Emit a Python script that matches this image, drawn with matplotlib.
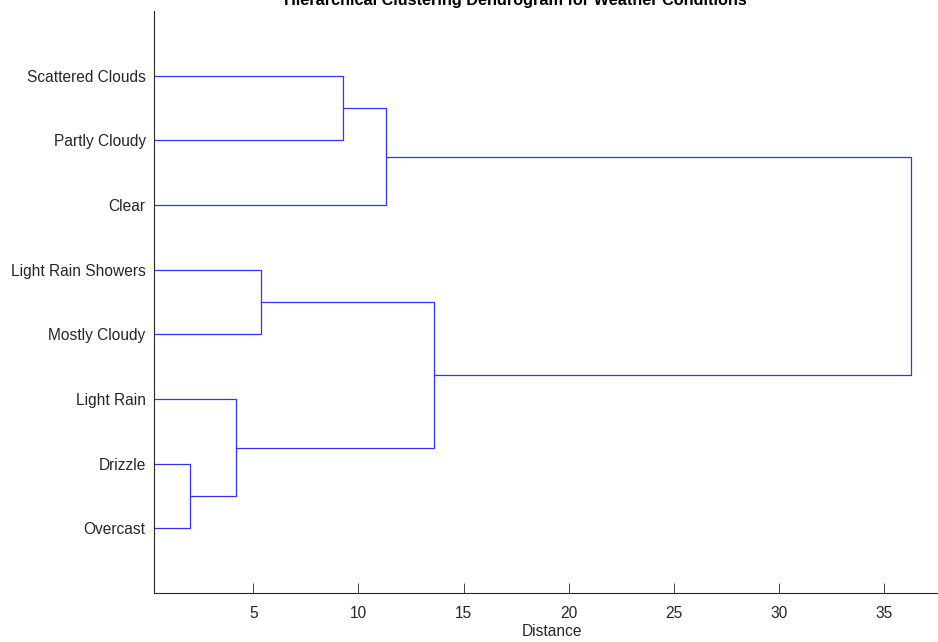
import matplotlib
matplotlib.use("Agg")
import matplotlib.pyplot as plt

# leaves, bottom to top
leaves = ["Overcast", "Drizzle", "Light Rain", "Mostly Cloudy",
          "Light Rain Showers", "Clear", "Partly Cloudy", "Scattered Clouds"]

# merges: (child a, child b, distance); children are leaf names or merge index
merges = [
    ("Drizzle", "Overcast", 1.99),
    ("Light Rain", 0, 4.18),
    ("Light Rain Showers", "Mostly Cloudy", 5.36),
    ("Scattered Clouds", "Partly Cloudy", 9.26),
    (3, "Clear", 11.31),
    (2, 1, 13.59),
    (4, 5, 36.27),
]

fig = plt.figure(figsize=(9.38, 6.42), dpi=100)
ax = fig.add_axes([154 / 938, 49 / 642, 784 / 938, 582 / 642])

pos = {}
for i, name in enumerate(leaves):
    pos[name] = (0.0, i + 1)

line_col = (0.2, 0.2, 1.0)
for k, (a, b, h) in enumerate(merges):
    xa, ya = pos[a]
    xb, yb = pos[b]
    ax.plot([xa, h, h, xb], [ya, ya, yb, yb], color=line_col, lw=0.9)
    pos[k] = (h, (ya + yb) / 2)

ax.set_xlim(0.28, 37.56)
ax.set_ylim(0, len(leaves) + 1)
ax.set_yticks(range(1, len(leaves) + 1))
ax.set_yticklabels(leaves)
ax.set_xticks([5, 10, 15, 20, 25, 30, 35])

dark = "#262626"
for s in ["top", "right"]:
    ax.spines[s].set_visible(False)
for s in ["left", "bottom"]:
    ax.spines[s].set_color(dark)
    ax.spines[s].set_linewidth(0.8)
ax.tick_params(direction="in", length=7, width=0.6, colors=dark,
               labelsize=11.2)
ax.tick_params(axis="x", pad=9)
ax.tick_params(axis="y", pad=6)
for lab in ax.get_xticklabels() + ax.get_yticklabels():
    lab.set_family("Liberation Sans")

fig.text(552 / 938, 1 - 632 / 642, "Distance", ha="center", va="center",
         fontsize=11.2, color=dark, family="Liberation Sans")
fig.text(515 / 938, 1 - 5 / 642, "Hierarchical Clustering Dendrogram for Weather Conditions",
         ha="center", va="baseline", fontsize=11.7, fontweight="bold",
         color="black", family="Liberation Sans")

fig.savefig("out.png", dpi=100)
